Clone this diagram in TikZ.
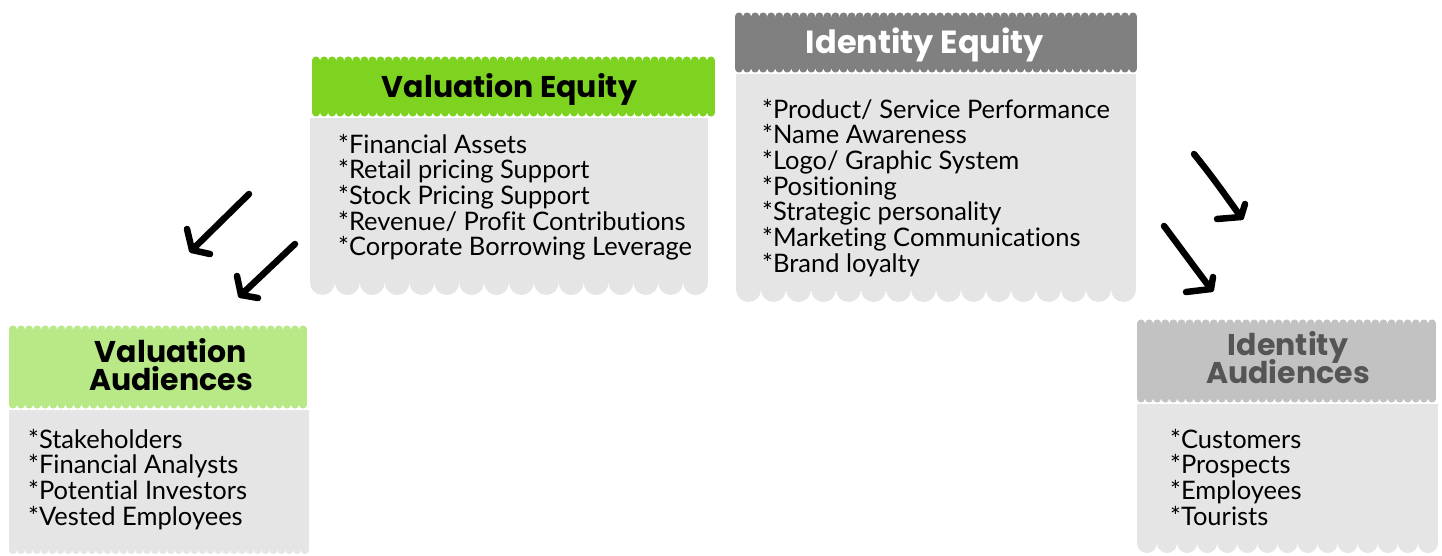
\documentclass[tikz,border=0pt]{standalone}
\usepackage{fontspec}
\setmainfont{Lato}[Ligatures={NoCommon,TeX}]
\newfontfamily\headfont{Poppins}
\definecolor{vgreen}{HTML}{7ED321}
\definecolor{lgreen}{HTML}{B8E986}
\definecolor{dgray}{HTML}{808080}
\definecolor{mgray}{HTML}{C2C2C2}
\definecolor{bodygray}{HTML}{E5E5E5}
\definecolor{txtgray}{HTML}{555555}
\newcommand\headshape[5]{%
  \fill[#5] (#1,#2+3.5) rectangle (#3,#4-3.5);
  \pgfmathtruncatemacro\nwv{round((#3-#1)/8)}
  \pgfmathsetmacro\rwv{(#3-#1)/(2*\nwv)}
  \foreach \k in {1,...,\nwv}{
    \fill[#5] ({#1+(2*\k-1)*\rwv},{#2+3.5}) circle[radius=\rwv pt];
    \fill[#5] ({#1+(2*\k-1)*\rwv},{#4-3.5}) circle[radius=\rwv pt];
  }}
\newcommand\bodyshape[6]{%
  \pgfmathtruncatemacro\nsc{round((#3-#1)/#6)}
  \pgfmathsetmacro\rsc{(#3-#1)/(2*\nsc)}
  \fill[#5] (#1,#2) rectangle (#3,{#4-\rsc});
  \foreach \k in {1,...,\nsc}{
    \fill[#5] ({#1+(2*\k-1)*\rsc},{#4-\rsc}) circle[radius=\rsc pt];
  }}
\newcommand\itemlines[1]{\vtop{\baselineskip=25.7pt\lineskiplimit=-30pt\lineskip=0pt #1}}
\newcommand\itm[1]{\hbox{*#1}}
\tikzset{
  bodytext/.style={anchor=base west, inner sep=0pt, font=\fontsize{25.5}{25.7}\selectfont},
  headtext/.style={anchor=base, inner sep=0pt, font=\headfont\bfseries\fontsize{30}{28}\selectfont},
  handarrow/.style={line width=6.5pt, line cap=round, line join=round, black},
}
\begin{document}
\begin{tikzpicture}[x=1pt,y=-1pt]
\useasboundingbox (0,0) rectangle (1442,555);
\fill[white] (0,0) rectangle (1442,555);
% Valuation Equity
\headshape{312}{57}{715}{116}{vgreen}
\bodyshape{310}{118}{708}{295}{bodygray}{25}
\node[headtext] (veh) at (509.5,97) {Valuation Equity};
\node[bodytext] (veb) at (338,153) {\itemlines{\itm{Financial Assets}\itm{Retail pricing Support}\itm{Stock Pricing Support}\itm{Revenue/ Profit Contributions}\itm{Corporate Borrowing Leverage}}};
% Identity Equity
\headshape{735}{13}{1137}{72}{dgray}
\bodyshape{736}{74}{1136}{302}{bodygray}{25}
\node[headtext, white, font=\headfont\bfseries\fontsize{32}{28}\selectfont] (ieh) at (925,53) {Identity Equity};
\node[bodytext] (ieb) at (762,118) {\itemlines{\itm{Product/ Service Performance}\itm{Name Awareness}\itm{Logo/ Graphic System}\itm{Positioning}\itm{Strategic personality}\itm{Marketing Communications}\itm{Brand loyalty}}};
% Valuation Audiences
\headshape{9}{326}{307}{408}{lgreen}
\bodyshape{9}{410}{309}{554}{bodygray}{8}
\node[headtext] (vah) at (171,362) {Valuation};
\node[headtext] (vah2) at (171,390) {Audiences};
\node[bodytext] (vab) at (28,448) {\itemlines{\itm{Stakeholders}\itm{Financial Analysts}\itm{Potential Investors}\itm{Vested Employees}}};
% Identity Audiences
\headshape{1137}{320}{1436}{402}{mgray}
\bodyshape{1137}{404}{1438}{553}{bodygray}{20}
\node[headtext, txtgray] (iah) at (1288,355) {Identity};
\node[headtext, txtgray] (iah2) at (1288,383) {Audiences};
\node[bodytext] (iab) at (1170,448) {\itemlines{\itm{Customers}\itm{Prospects}\itm{Employees}\itm{Tourists}}};
% hand-drawn arrows
\coordinate (a1s) at (249,194); \coordinate (a1t) at (192,250);
\coordinate (a1u) at (187,229); \coordinate (a1r) at (210,254);
\draw[handarrow] (a1s) -- (a1t);
\draw[handarrow] (a1u) -- (a1t) -- (a1r);
\coordinate (a2s) at (295,244); \coordinate (a2t) at (241,295);
\coordinate (a2u) at (237,276); \coordinate (a2r) at (258,298);
\draw[handarrow] (a2s) -- (a2t);
\draw[handarrow] (a2u) -- (a2t) -- (a2r);
\coordinate (a3s) at (1194,154); \coordinate (a3t) at (1241,217);
\coordinate (a3u) at (1245,204); \coordinate (a3l) at (1217,219);
\draw[handarrow] (a3s) .. controls (1215,180) and (1225,195) .. (a3t);
\draw[handarrow] (a3u) -- (a3t) -- (a3l);
\coordinate (a4s) at (1164,226); \coordinate (a4t) at (1211,289);
\coordinate (a4u) at (1213,277); \coordinate (a4l) at (1186,292);
\draw[handarrow] (a4s) .. controls (1182,250) and (1195,268) .. (a4t);
\draw[handarrow] (a4u) -- (a4t) -- (a4l);
\end{tikzpicture}
\end{document}
